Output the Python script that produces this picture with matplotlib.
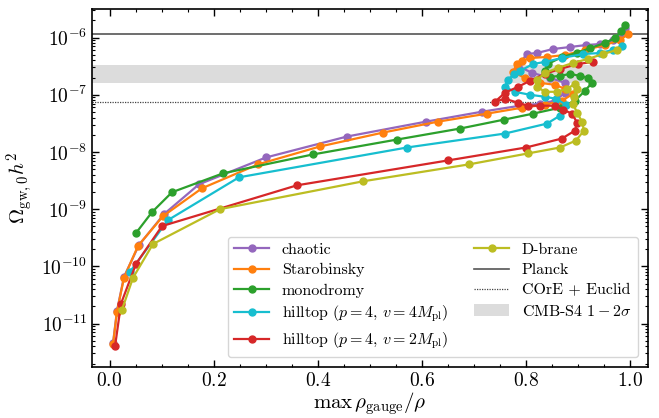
import numpy as np
import matplotlib
matplotlib.use("Agg")
import matplotlib.pyplot as plt
from matplotlib.ticker import MultipleLocator, LogLocator, NullFormatter, FixedLocator
from matplotlib.patches import Patch
from matplotlib.lines import Line2D

plt.rcParams['font.family'] = ['cmr10', 'DejaVu Serif']
plt.rcParams['mathtext.fontset'] = 'cm'
plt.rcParams['axes.formatter.use_mathtext'] = True
plt.rcParams['axes.unicode_minus'] = False

# ---- data: x = max rho_gauge/rho, y = log10(Omega_gw,0 h^2) ----
chaotic_x = [0.0067, 0.0144, 0.0278, 0.0566, 0.1046, 0.1718, 0.3004, 0.4559, 0.6075, 0.715,
             0.788, 0.8263, 0.855, 0.8743, 0.8743, 0.8455, 0.811, 0.784, 0.801, 0.8205,
             0.8512, 0.884, 0.9146, 0.9415, 0.9664, 0.98, 0.9895]
chaotic_logy = [-11.348, -10.774, -10.183, -9.626, -9.087, -8.565, -8.096, -7.73, -7.47, -7.296,
                -7.191, -7.157, -7.104, -6.965, -6.791, -6.704, -6.617, -6.496, -6.287, -6.27,
                -6.20, -6.165, -6.130, -6.113, -6.043, -5.957, -5.835]

staro_x = [0.0067, 0.0144, 0.0278, 0.0547, 0.1027, 0.1775, 0.285, 0.404, 0.525, 0.6305,
           0.7246, 0.7917, 0.8359, 0.8685, 0.8897, 0.8743, 0.855, 0.8263, 0.797, 0.7745,
           0.782, 0.7917, 0.807, 0.8397, 0.8743, 0.9127, 0.951, 0.98, 0.9952]
staro_logy = [-11.365, -10.791, -10.2, -9.643, -9.122, -8.635, -8.217, -7.904, -7.661, -7.47,
              -7.33, -7.226, -7.174, -7.104, -6.983, -6.896, -6.826, -6.791, -6.704, -6.6,
              -6.461, -6.409, -6.357, -6.339, -6.304, -6.217, -6.13, -6.043, -5.939]

mono_x = [0.0509, 0.0816, 0.12, 0.2178, 0.3906, 0.5518, 0.6727, 0.757, 0.813, 0.8647,
          0.8935, 0.9127, 0.926, 0.9184, 0.9031, 0.884, 0.8647, 0.8455, 0.8359, 0.8417,
          0.8685, 0.8973, 0.9223, 0.951, 0.970, 0.9818, 0.9895]
mono_logy = [-9.417, -9.052, -8.704, -8.374, -8.043, -7.783, -7.591, -7.435, -7.33, -7.226,
             -7.104, -6.93, -6.791, -6.704, -6.67, -6.635, -6.67, -6.687, -6.583, -6.461,
             -6.339, -6.27, -6.183, -6.096, -6.009, -5.887, -5.783]

hill4_x = [0.0393, 0.1123, 0.2486, 0.571, 0.759, 0.8397, 0.8647, 0.8762, 0.857, 0.8359,
           0.807, 0.778, 0.759, 0.765, 0.7765, 0.788, 0.813, 0.8359, 0.8685, 0.9088,
           0.9415, 0.9664, 0.9837]
hill4_logy = [-10.096, -9.191, -8.443, -7.922, -7.678, -7.504, -7.365, -7.174, -7.07, -7.035,
              -7.0, -6.948, -6.861, -6.739, -6.635, -6.583, -6.461, -6.426, -6.357, -6.287,
              -6.27, -6.217, -6.148]

hill2_x = [0.0106, 0.0221, 0.0509, 0.1008, 0.3599, 0.6497, 0.7994, 0.8685, 0.8935, 0.8973,
           0.888, 0.8704, 0.855, 0.8263, 0.803, 0.784, 0.759, 0.740, 0.759, 0.784,
           0.807, 0.8359, 0.8647, 0.8993, 0.928]
hill2_logy = [-11.4, -10.652, -9.957, -9.296, -8.583, -8.148, -7.922, -7.765, -7.626, -7.487,
              -7.33, -7.261, -7.191, -7.191, -7.191, -7.139, -7.07, -7.122, -6.965, -6.861,
              -6.757, -6.635, -6.548, -6.461, -6.426]

dbrane_x = [0.024, 0.0451, 0.0835, 0.2121, 0.4866, 0.69, 0.803, 0.8647, 0.8954, 0.9107,
            0.907, 0.8973, 0.8897, 0.8916, 0.8973, 0.8935, 0.878, 0.8589, 0.8359, 0.8205,
            0.8205, 0.8359, 0.8608, 0.8897, 0.9184, 0.9472, 0.9741]
dbrane_logy = [-10.757, -10.2, -9.609, -9.0, -8.513, -8.217, -8.026, -7.922, -7.80, -7.626,
               -7.47, -7.313, -7.157, -7.035, -6.896, -6.809, -6.896, -6.948, -6.948, -6.861,
               -6.739, -6.617, -6.53, -6.443, -6.374, -6.287, -6.217]

series_names = ['chaotic', 'Starobinsky', 'monodromy',
                r'hilltop $(p=4,\, v=4M_{\rm pl})$',
                r'hilltop $(p=4,\, v=2M_{\rm pl})$',
                'D-brane']
series_colors = ['#9467bd', '#ff7f0e', '#2ca02c', '#17becf', '#d62728', '#bcbd22']
series_x = [chaotic_x, staro_x, mono_x, hill4_x, hill2_x, dbrane_x]
series_logy = [chaotic_logy, staro_logy, mono_logy, hill4_logy, hill2_logy, dbrane_logy]

y_major_ticks = [1e-11, 1e-10, 1e-9, 1e-8, 1e-7, 1e-6]

planck_level = 1.16e-6
core_euclid_level = 7.6e-8
cmbs4_band = (1.6e-7, 3.35e-7)

fig = plt.figure(figsize=(6.59, 4.18), dpi=100)
ax = fig.add_axes([0.1396, 0.122, 0.8437, 0.8565])

ax.axhspan(cmbs4_band[0], cmbs4_band[1], color='#dcdcdc', lw=0, zorder=1)
ax.axhline(planck_level, color='#555555', lw=1.2, zorder=1.5)
ax.axhline(core_euclid_level, color='#444444', lw=0.9, ls=(0, (1, 1)), zorder=1.5)

for name, col, xs, ly in zip(series_names, series_colors, series_x, series_logy):
    ax.plot(xs, 10 ** np.asarray(ly), '-o', color=col, lw=1.6, ms=5, zorder=3)

ax.set_yscale('log')
ax.set_xlim(-0.0336, 1.0336)
ax.set_ylim(10 ** -11.76, 10 ** -5.50)

ax.xaxis.set_major_locator(MultipleLocator(0.2))
ax.xaxis.set_minor_locator(MultipleLocator(0.05))
ax.yaxis.set_major_locator(FixedLocator(y_major_ticks))
ax.yaxis.set_minor_locator(LogLocator(base=10, subs=np.arange(2, 10), numticks=20))
ax.yaxis.set_minor_formatter(NullFormatter())
ax.tick_params(which='both', direction='in', top=True, right=True, labelsize=14)
ax.tick_params(which='major', length=5, width=1)
ax.tick_params(which='minor', length=2.5, width=0.8)
for s in ax.spines.values():
    s.set_linewidth(1.2)

ax.set_xlabel(r'$\max\,\rho_{\rm gauge}/\rho$', fontsize=15, labelpad=0)
ax.set_ylabel(r'$\Omega_{\rm gw,0}h^2$', fontsize=15, labelpad=4)

handles = [Line2D([], [], color=c, marker='o', ms=5, lw=1.6) for c in series_colors]
handles += [Line2D([], [], color='#555555', lw=1.2),
            Line2D([], [], color='#444444', lw=0.9, ls=(0, (1, 1))),
            Patch(facecolor='#dcdcdc', edgecolor='none')]
labels = series_names + ['Planck', 'COrE + Euclid', r'CMB-S4 $1-2\sigma$']
leg = ax.legend(handles, labels, loc='lower right', ncol=2, fontsize=11.5,
                handlelength=2.2, columnspacing=1.6, labelspacing=0.38,
                borderaxespad=0.6, fancybox=True, framealpha=0.8, edgecolor='#cccccc')

fig.savefig('out.png', dpi=100)
